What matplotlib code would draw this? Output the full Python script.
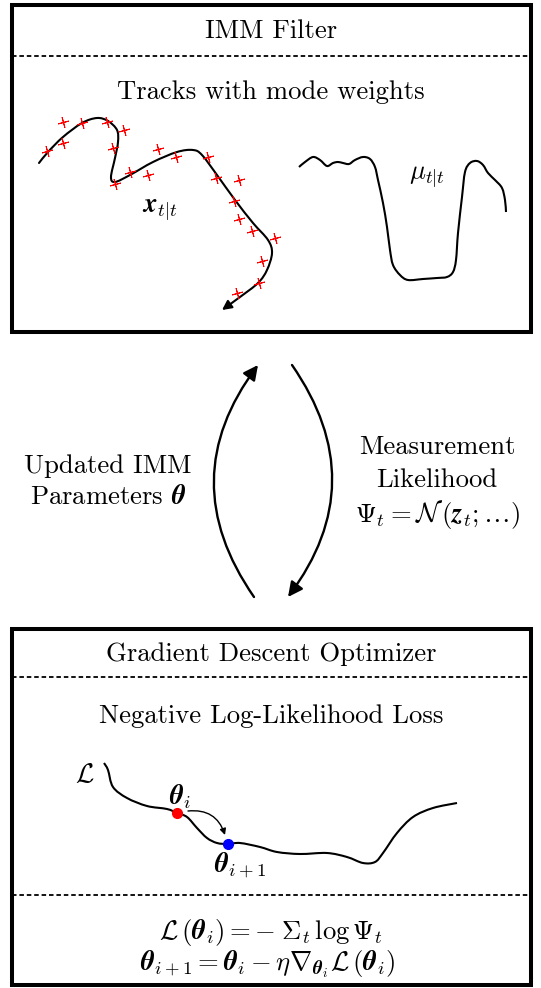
import numpy as np
import matplotlib.pyplot as plt
from matplotlib.patches import Rectangle, FancyArrowPatch, PathPatch
from matplotlib.path import Path

plt.rcParams['mathtext.fontset'] = 'cm'
plt.rcParams['font.family'] = 'cmr10'
plt.rcParams['axes.unicode_minus'] = False

# track of the IMM filter (pixel coords)
track_x = [39, 48, 63, 82, 97, 108, 117, 118, 115, 111, 115, 130, 153, 177, 193, 202,
           217, 235, 253, 268, 272, 267, 258, 240, 222]
track_y = [163, 152, 137, 123, 118, 121, 130, 142, 158, 177, 182, 175, 162, 152, 150, 155,
           175, 200, 223, 240, 253, 270, 283, 297, 310]

# measurements (red crosses)
cross_x = [63, 82, 107, 124, 47, 63, 113, 158, 176, 208, 130, 148, 115, 216, 239, 234,
           239, 252, 275, 262, 259, 237]
cross_y = [122, 123, 122, 130, 151, 143, 148, 149, 157, 157, 172, 175, 184, 178, 180, 201,
           219, 231, 238, 261, 283, 293]

# mode weight curve
mode_x = [299, 305, 313, 320, 327, 333, 338, 343, 349, 355, 363, 370, 375, 378, 383, 387,
          390, 393, 400, 408, 423, 437, 447, 453, 456, 458, 462, 465, 470, 477, 483, 488,
          495, 502, 505, 506]
mode_y = [167, 162, 157, 160, 166, 163, 162, 163, 164, 160, 157, 159, 167, 180, 203, 227,
          250, 265, 275, 280, 279, 278, 277, 272, 260, 233, 197, 172, 163, 161, 165, 173,
          180, 188, 200, 212]

# loss curve
loss_x = [104, 108, 113, 127, 147, 167, 177, 187, 197, 207, 217, 228, 240, 260, 277, 300,
          327, 347, 363, 375, 383, 397, 413, 433, 457]
loss_y = [763, 770, 787, 798, 806, 809, 813, 817, 828, 838, 843, 844, 843, 847, 852, 854,
          853, 857, 863, 862, 853, 833, 817, 808, 803]
theta_i = (177, 813)
theta_next = (228, 844)


def smooth_path(xs, ys):
    # bezier path through the points (like tikz "smooth")
    p = np.column_stack([xs, ys]).astype(float)
    verts = [p[0]]
    codes = [Path.MOVETO]
    n = len(p)
    for i in range(n - 1):
        p0 = p[max(i - 1, 0)]
        p3 = p[min(i + 2, n - 1)]
        c1 = p[i] + (p[i + 1] - p0) / 6
        c2 = p[i + 1] - (p3 - p[i]) / 6
        verts += [c1, c2, p[i + 1]]
        codes += [Path.CURVE4] * 3
    return Path(verts, codes)


W, H = 541, 988
fig = plt.figure(figsize=(W / 100, H / 100), dpi=100)
ax = fig.add_axes([0, 0, 1, 1])
ax.set_xlim(0, W)
ax.set_ylim(H, 0)
ax.axis('off')

fs = 19.2

# ---- top box
ax.add_patch(Rectangle((12, 5), 519, 327, fill=False, lw=2.9, ec='black'))
ax.plot([12, 531], [56, 56], color='black', lw=1.3, ls=(0, (2.5, 1.6)))
ax.text(271, 31, 'IMM Filter', ha='center', va='center', fontsize=fs)
ax.text(271, 92, 'Tracks with mode weights', ha='center', va='center', fontsize=fs)

ax.add_patch(FancyArrowPatch(path=smooth_path(track_x, track_y), arrowstyle='-|>',
                             mutation_scale=14, lw=1.5, color='black'))
ax.plot(cross_x, cross_y, ls='none', marker=(4, 2, 15), ms=8, mew=0.7, color='red')
ax.text(160, 210, r'$\mathbfit{x}_{t|t}$', ha='center', va='center', fontsize=fs)

ax.add_patch(PathPatch(smooth_path(mode_x, mode_y), fill=False, lw=1.5, ec='black'))
ax.text(427, 177, r'$\mu_{t|t}$', ha='center', va='center', fontsize=fs)

# ---- arrows between boxes
ax.add_patch(FancyArrowPatch((254, 597), (258, 365), connectionstyle='arc3,rad=-0.36',
                             arrowstyle='-|>', mutation_scale=22, lw=1.7, color='black',
                             shrinkA=0, shrinkB=0))
ax.add_patch(FancyArrowPatch((292, 365), (288, 597), connectionstyle='arc3,rad=-0.36',
                             arrowstyle='-|>', mutation_scale=22, lw=1.7, color='black',
                             shrinkA=0, shrinkB=0))
ax.text(108, 466, 'Updated IMM', ha='center', va='center', fontsize=fs)
ax.text(108, 497, r'Parameters $\mathbfit{\theta}$', ha='center', va='center', fontsize=fs)
ax.text(437, 447, 'Measurement', ha='center', va='center', fontsize=fs)
ax.text(437, 480, 'Likelihood', ha='center', va='center', fontsize=fs)
ax.text(437, 514, r'$\Psi_t = \mathcal{N}\,(\mathbfit{z}_t;\ldots)$',
        ha='center', va='center', fontsize=fs)

# ---- bottom box
ax.add_patch(Rectangle((12, 629), 519, 356, fill=False, lw=2.9, ec='black'))
ax.plot([12, 531], [677, 677], color='black', lw=1.3, ls=(0, (2.5, 1.6)))
ax.plot([12, 531], [895, 895], color='black', lw=1.3, ls=(0, (2.5, 1.6)))
ax.text(271, 654, 'Gradient Descent Optimizer', ha='center', va='center', fontsize=fs)
ax.text(271, 716, 'Negative Log-Likelihood Loss', ha='center', va='center', fontsize=fs)

ax.add_patch(PathPatch(smooth_path(loss_x, loss_y), fill=False, lw=1.5, ec='black'))
ax.text(85, 775, r'$\mathcal{L}$', ha='center', va='center', fontsize=fs)
ax.plot(*theta_i, 'o', color='red', ms=7)
ax.plot(*theta_next, 'o', color='blue', ms=7)
ax.text(180, 797, r'$\mathbfit{\theta}_i$', ha='center', va='center', fontsize=fs)
ax.text(240, 865, r'$\mathbfit{\theta}_{i+1}$', ha='center', va='center', fontsize=fs)
ax.add_patch(FancyArrowPatch((188, 811), (225, 835), connectionstyle='arc3,rad=-0.4',
                             arrowstyle='-|>', mutation_scale=9, lw=1.0, color='black',
                             shrinkA=0, shrinkB=0))

ax.text(271, 939, r'$\mathcal{L}\,(\mathbfit{\theta}_i) = -\;\Sigma_t\, \log\Psi_t$',
        ha='center', va='baseline', fontsize=fs)
ax.text(268, 970, r'$\mathbfit{\theta}_{i+1} = \mathbfit{\theta}_i - \eta\nabla_{\mathbfit{\theta}_i}'
        r'\mathcal{L}\,(\mathbfit{\theta}_i)$',
        ha='center', va='baseline', fontsize=fs)

fig.savefig('out.png', dpi=100)
